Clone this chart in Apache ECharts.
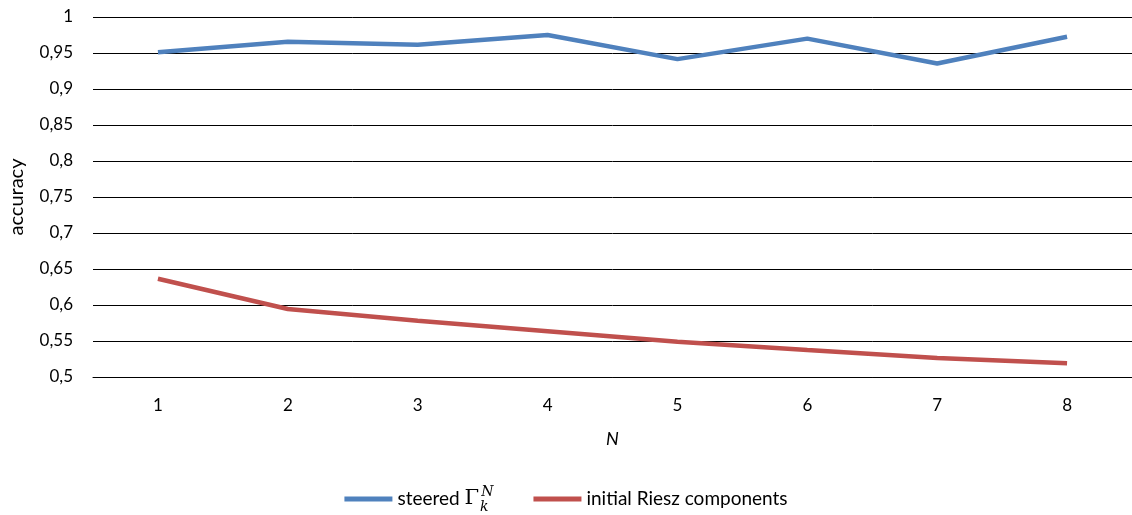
<!DOCTYPE html>
<html><head><meta charset="utf-8">
<script src="https://cdn.jsdelivr.net/npm/echarts@6/dist/echarts.min.js"></script>
<style>html,body{margin:0;padding:0;background:#fff}#c{width:1132px;height:515px}</style>
</head><body><div id="c"></div>
<script>
const categories = ['1','2','3','4','5','6','7','8'];
const steered = [0.951, 0.9655, 0.9615, 0.975, 0.9415, 0.970, 0.9355, 0.9725];
const riesz = [0.6365, 0.5945, 0.578, 0.5635, 0.549, 0.5375, 0.5265, 0.519];
const seriesNames = ['steered', 'initial Riesz components'];

const font = 'Lato, "Open Sans", sans-serif';
const chart = echarts.init(document.getElementById('c'));
chart.setOption({
  animation: false,
  backgroundColor: '#fff',
  grid: {left: 93, right: 0, top: 17, bottom: 138, containLabel: false, outerBoundsMode: 'none'},
  xAxis: {
    type: 'category', data: categories, boundaryGap: true,
    name: 'N', nameLocation: 'middle', nameGap: 53,
    nameTextStyle: {fontFamily: font, fontSize: 18, fontStyle: 'italic', color: '#000'},
    axisLine: {show: true, lineStyle: {color: '#000', width: 1}},
    axisTick: {show: false},
    axisLabel: {fontFamily: font, fontSize: 17, color: '#000', margin: 20}
  },
  yAxis: {
    type: 'value', min: 0.5, max: 1, interval: 0.05,
    name: 'accuracy', nameLocation: 'middle', nameGap: 66,
    nameTextStyle: {fontFamily: font, fontSize: 20, color: '#000'},
    axisLine: {show: false}, axisTick: {show: false},
    splitLine: {lineStyle: {color: '#000', width: 1}},
    axisLabel: {fontFamily: font, fontSize: 17, color: '#000', margin: 20,
      formatter: v => String(Math.round(v * 100) / 100).replace('.', ',')}
  },
  legend: {
    top: 480, left: 'center', itemGap: 40, itemWidth: 48, itemHeight: 5,
    icon: 'rect',
    data: seriesNames,
    formatter: n => n === 'steered'
      ? '{t|steered }{g|Γ}{k|k}{n|N}'
      : '{t|' + n + '}',
    textStyle: {
      fontFamily: font, fontSize: 19, color: '#000',
      rich: {
        t: {fontFamily: font, fontSize: 19, color: '#000'},
        g: {fontFamily: '"DejaVu Serif", serif', fontSize: 21, color: '#000'},
        k: {fontFamily: '"DejaVu Serif", serif', fontStyle: 'italic', fontSize: 14, color: '#000', width: 0.1, padding: [16,0,0,1]},
        n: {fontFamily: '"DejaVu Serif", serif', fontStyle: 'italic', fontSize: 14, color: '#000', padding: [0,0,14,1]}
      }
    }
  },
  series: [
    {name: seriesNames[0], type: 'line', data: steered, symbol: 'none',
     color: '#4F81BD', lineStyle: {width: 4.5, color: '#4F81BD'}},
    {name: seriesNames[1], type: 'line', data: riesz, symbol: 'none',
     color: '#C0504D', lineStyle: {width: 4.5, color: '#C0504D'}}
  ]
});
</script></body></html>
